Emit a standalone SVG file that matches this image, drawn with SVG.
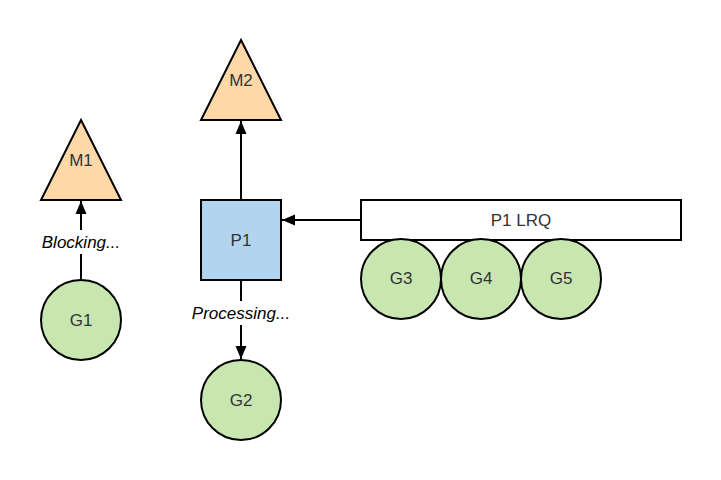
<svg xmlns="http://www.w3.org/2000/svg" width="721" height="480" viewBox="0 0 721 480">
<defs>
<style>
.t{font-family:"Liberation Sans",Arial,sans-serif;font-size:17px;fill:#333;text-anchor:middle;dominant-baseline:central}
.i{font-style:italic;fill:#000}
.m{fill:#ffd8a8;stroke:#000;stroke-width:2}
.g{fill:#c7e6b0;stroke:#000;stroke-width:2}
.p{fill:#b3d4ef;stroke:#000;stroke-width:2}
.q{fill:#fff;stroke:#000;stroke-width:2}
.c{stroke:#000;stroke-width:2;fill:none}
</style>
<marker id="a" markerWidth="14" markerHeight="12" refX="13" refY="6" orient="auto" markerUnits="userSpaceOnUse">
<path d="M0,0.5 L13,6 L0,11.5 z" fill="#000"/>
</marker>
</defs>
<rect width="721" height="480" fill="#fff"/>
<g id="connectors">
<path class="c" d="M81,280 V254" />
<path class="c" d="M81,230 V201" marker-end="url(#a)"/>
<text class="t i" x="81" y="242">Blocking...</text>
<path class="c" d="M241,200 V121" marker-end="url(#a)"/>
<path class="c" d="M241,280 V301"/>
<path class="c" d="M241,325 V359" marker-end="url(#a)"/>
<text class="t i" x="241" y="313">Processing...</text>
<path class="c" d="M361,220 H282" marker-end="url(#a)"/>
</g>
<g id="M1"><path class="m" d="M81,120 L121,200 L41,200 Z"/><text class="t" x="81" y="160">M1</text></g>
<g id="G1"><circle class="g" cx="81" cy="320" r="40"/><text class="t" x="81" y="320">G1</text></g>
<g id="M2"><path class="m" d="M241,40 L281,120 L201,120 Z"/><text class="t" x="241" y="80">M2</text></g>
<g id="P1"><rect class="p" x="201" y="200" width="80" height="80"/><text class="t" x="241" y="240">P1</text></g>
<g id="G2"><circle class="g" cx="241" cy="400" r="40"/><text class="t" x="241" y="400">G2</text></g>
<g id="LRQ"><rect class="q" x="361" y="200" width="320" height="40"/><text class="t" x="521" y="220">P1 LRQ</text></g>
<g id="G3"><circle class="g" cx="401" cy="279" r="40"/><text class="t" x="401" y="278">G3</text></g>
<g id="G4"><circle class="g" cx="481" cy="279" r="40"/><text class="t" x="481" y="278">G4</text></g>
<g id="G5"><circle class="g" cx="561" cy="279" r="40"/><text class="t" x="561" y="278">G5</text></g>
</svg>
